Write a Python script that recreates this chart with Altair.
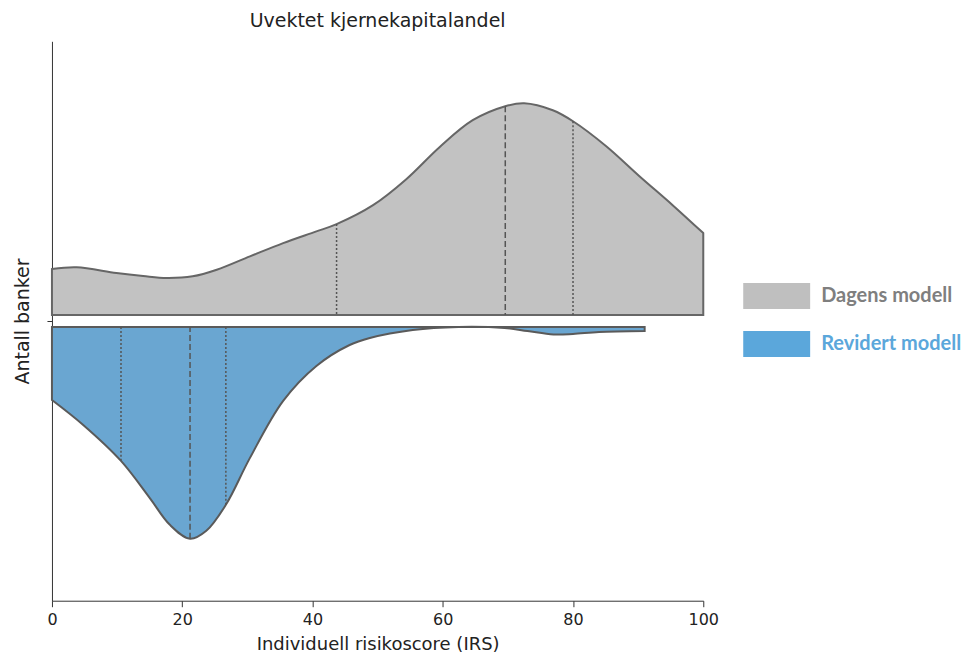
import altair as alt
import pandas as pd

# Grey (Dagens modell) upper half: x position and density height (axis units)
grey_x = [0, 3.8, 9.9, 14, 17.6, 21.6, 25.3, 30.4, 35.5, 40.6, 43.7, 49.3, 54.4, 59.5, 64.6, 69.6, 72.5, 76.9, 80, 85.1, 90.2, 95.3, 100]
grey_y = [52, 53.7, 48, 45, 43, 44.7, 51.3, 64.7, 78, 89.7, 97, 116, 142, 174, 201, 215, 218, 211, 200, 175, 145, 116, 88]
grey_base = 6

# Blue (Revidert modell) lower half
blue_x = [0, 4.8, 10.6, 15, 18.1, 21.2, 23.7, 26.7, 30.4, 35.5, 40.6, 45.7, 48.8, 55.4, 62.4, 69.5, 73, 77, 80, 84, 91]
blue_y = [-79, -104, -140, -177, -204, -218, -210, -184, -137, -80, -45, -24, -17, -9, -6, -7, -10, -13.5, -13, -11, -10]
blue_base = -6

# Quartile lines (x, top value, style)
grey_q_x = [43.7, 69.6, 80]
grey_q_top = [97, 215, 200]
blue_q_x = [10.6, 21.2, 26.7]
blue_q_top = [-140, -218, -184]
q_kind = ["quartile", "median", "quartile"]

legend_labels = ["Dagens modell", "Revidert modell"]
legend_fill = ["#bfbfbf", "#5ba7db"]
legend_text = ["#7f7f7f", "#5ba7db"]

grey_df = pd.DataFrame({"x": grey_x, "y": grey_y, "base": grey_base})
blue_df = pd.DataFrame({"x": blue_x, "y": blue_y, "base": blue_base})
q_df = pd.DataFrame({
    "x": grey_q_x + blue_q_x,
    "top": grey_q_top + blue_q_top,
    "base": [grey_base] * 3 + [blue_base] * 3,
    "kind": q_kind + q_kind,
})

xscale = alt.Scale(domain=[0, 100], nice=False, zero=False)
yscale = alt.Scale(domain=[-280, 280], nice=False)

xenc = alt.X("x:Q", scale=xscale, title="Individuell risikoscore (IRS)",
             axis=alt.Axis(values=[0, 20, 40, 60, 80, 100], grid=False, labelFontSize=16,
                           titleFontSize=18, titleFontWeight="normal",
                           labelColor="#222", titleColor="#222",
                           domainColor="#333", tickColor="#333", tickSize=6,
                           labelPadding=5, titlePadding=8, labelFlush=False, format="d"))
yenc = alt.Y("y:Q", scale=yscale, title="Antall banker",
             axis=alt.Axis(values=[0], labels=False, grid=False, titleFontSize=19,
                           titleFontWeight="normal",
                           titleColor="#222", domainColor="#333", tickColor="#333",
                           tickSize=5, titlePadding=14))

grey_area = alt.Chart(grey_df).mark_area(
    interpolate="catmull-rom", color="#c2c2c2", stroke="#666666", strokeWidth=2
).encode(x=xenc, y=yenc, y2="base:Q")

blue_area = alt.Chart(blue_df).mark_area(
    interpolate="catmull-rom", color="#6aa6d1", stroke="#5a5a5a", strokeWidth=2
).encode(x="x:Q", y="y:Q", y2="base:Q")

q_med = alt.Chart(q_df).transform_filter(alt.datum.kind == "median").mark_rule(
    color="#555555", strokeWidth=1.5, strokeDash=[6, 3]
).encode(x="x:Q", y="top:Q", y2="base:Q")

q_quart = alt.Chart(q_df).transform_filter(alt.datum.kind == "quartile").mark_rule(
    color="#555555", strokeWidth=1.5, strokeDash=[2, 2]
).encode(x="x:Q", y="top:Q", y2="base:Q")

main = alt.layer(grey_area, blue_area, q_med, q_quart).properties(
    width=652, height=560,
    title=alt.TitleParams("Uvektet kjernekapitalandel", fontSize=19, fontWeight="normal",
                          color="#222", offset=10, anchor="middle", font="DejaVu Sans"),
)

leg_df = pd.DataFrame({"label": legend_labels, "fill": legend_fill, "tcol": legend_text})
leg_y = alt.Y("label:N", sort=legend_labels, axis=None,
              scale=alt.Scale(domain=legend_labels, range=[242, 316],
                              paddingInner=0.458, paddingOuter=0))

leg_rect = alt.Chart(leg_df).mark_rect().encode(
    x=alt.value(0), x2=alt.value(67), y=leg_y,
    color=alt.Color("fill:N", scale=None),
)
leg_text = alt.Chart(leg_df).mark_text(
    align="left", baseline="middle", fontSize=20, fontWeight="bold", font="Lato"
).encode(
    x=alt.value(78), y=leg_y, text="label:N",
    color=alt.Color("tcol:N", scale=None),
)
legend = alt.layer(leg_rect, leg_text).properties(width=140, height=560)

chart = (
    alt.hconcat(main, legend, spacing=24)
    .properties(padding={"left": 5, "top": 4, "right": 0, "bottom": 0})
    .configure(font="DejaVu Sans")
    .configure_view(stroke="transparent", strokeWidth=0)
)

chart.save("out.html", embed_options={"renderer": "svg", "actions": False})
